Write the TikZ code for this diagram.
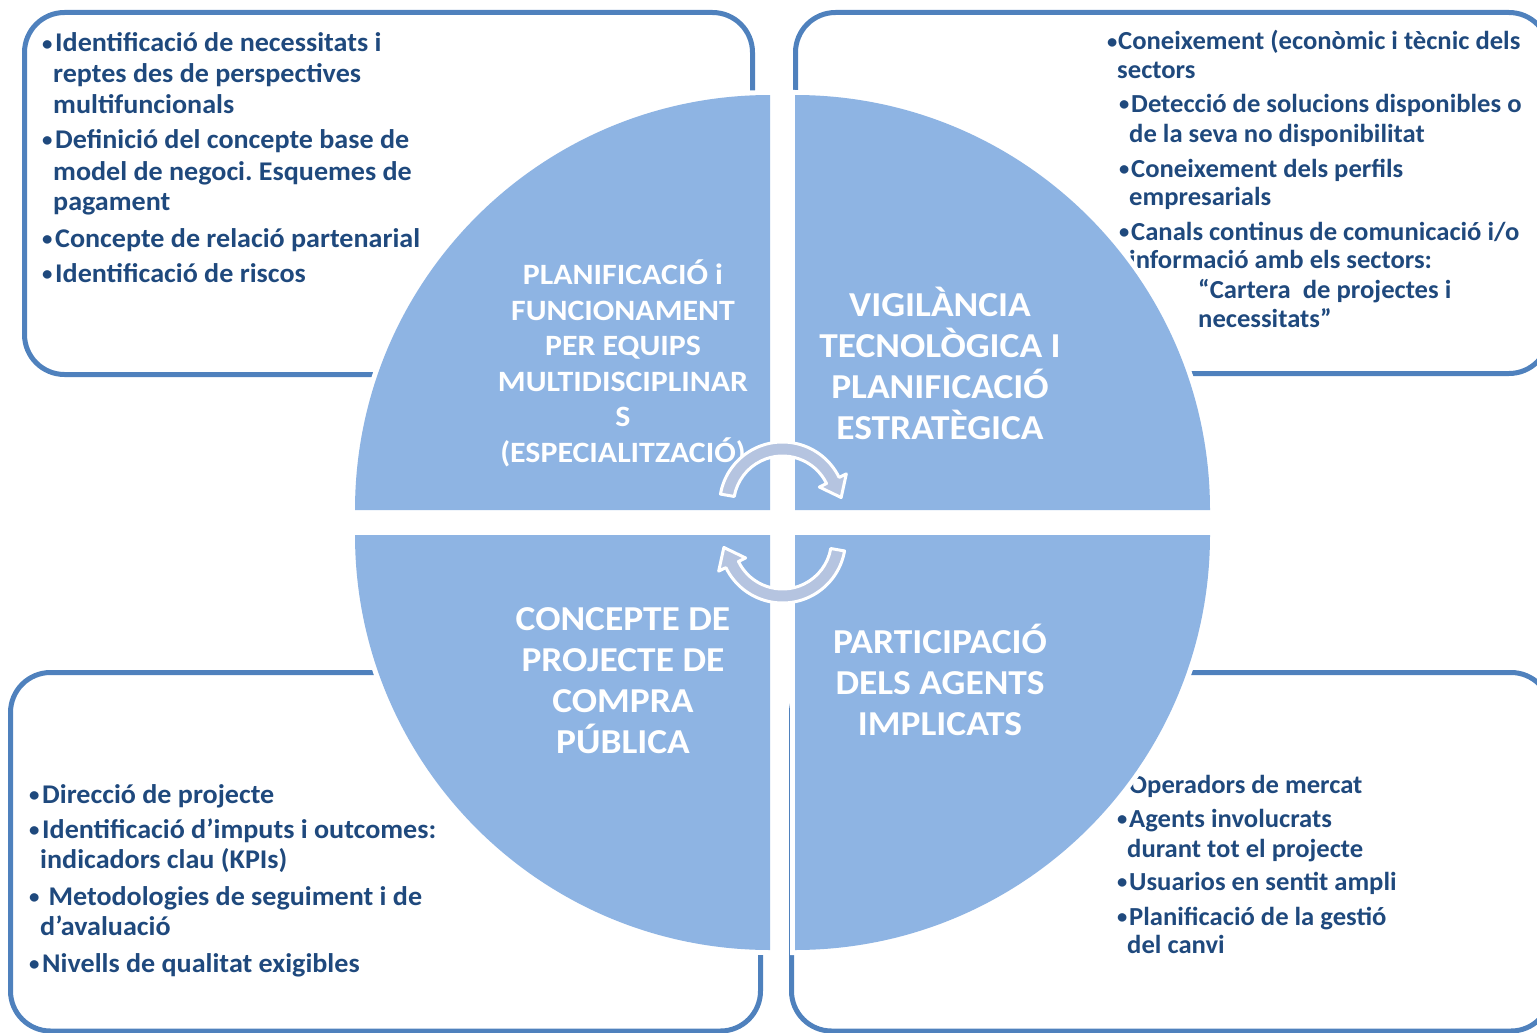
\documentclass[tikz,border=0pt]{standalone}
\usepackage{fontspec}
\setmainfont{Carlito}
\usetikzlibrary{calc}
\frenchspacing
\definecolor{qfill}{RGB}{142,180,227}
\definecolor{boxline}{RGB}{79,129,189}
\definecolor{txt}{RGB}{31,73,125}
\definecolor{arrfill}{RGB}{181,196,224}
\newcommand{\bu}[1][12]{\makebox[#1pt][l]{\raisebox{1.5pt}{\fontsize{20}{20}\selectfont •}}}
\begin{document}
\begin{tikzpicture}[x=1pt,y=-1pt,
  frame/.style={draw=boxline,line width=5pt,rounded corners=40pt},
  quarter/.style={fill=qfill,preaction={draw=white,line width=10pt}},
  bt/.style={anchor=base west,inner sep=0pt,text=txt,font=\fontsize{27}{31}\selectfont\bfseries\addfontfeatures{FakeStretch=1.04}},
  btr/.style={anchor=base west,inner sep=0pt,text=txt,font=\fontsize{26}{31}\selectfont\bfseries\addfontfeatures{FakeStretch=1.025}},
  qtsmall/.style={align=center,text=white,inner sep=0pt,font=\fontsize{29.5}{35.5}\selectfont\bfseries\addfontfeatures{FakeStretch=1.08}},
  qtbig/.style={align=center,text=white,inner sep=0pt,font=\fontsize{35}{41}\selectfont\bfseries\addfontfeatures{FakeStretch=1.07}},
  cyc/.style={fill=arrfill,draw=white,line width=3pt,line join=round}]
\useasboundingbox (0,0) rectangle (1537,1033);
\clip (0,0) rectangle (1537,1033);

% frames
\draw[frame] (24.5,12.5) rectangle (752.5,374.5);
\draw[frame] (795.5,12.5) rectangle (1549,373.5);
\draw[frame] (10.5,672.5) rectangle (760.5,1031);
\draw[frame] (791.5,672.5) rectangle (1551,1031);

% top-left text
\node[bt] (tl1) at (42,52) {\bu[13]Identificació de necessitats i};
\node[bt] (tl2) at (53,83) {reptes des de perspectives};
\node[bt] (tl3) at (53,113) {multifuncionals};
\node[bt] (tl4) at (42,148) {\bu[13]Definició del concepte base de};
\node[bt] (tl5) at (53,180) {model de negoci. Esquemes de};
\node[bt] (tl6) at (53,210) {pagament};
\node[bt] (tl7) at (42,247) {\bu[13]Concepte de relació partenarial};
\node[bt] (tl8) at (42,282) {\bu[13]Identificació de riscos};

% top-right text
\node[btr] (tr1) at (1107,50) {\bu[11]Coneixement (econòmic i tècnic dels};
\node[btr] (tr2) at (1117,78) {sectors};
\node[btr] (tr3) at (1119,112) {\bu[12]Detecció de solucions disponibles o};
\node[btr] (tr4) at (1129,142) {de la seva no disponibilitat};
\node[btr] (tr5) at (1119,177) {\bu[12]Coneixement dels perfils};
\node[btr] (tr6) at (1129,205) {empresarials};
\node[btr] (tr7) at (1119,240) {\bu[12]Canals continus de comunicació i/o};
\node[btr] (tr8) at (1129,268) {informació amb els sectors:};
\node[btr] (tr9) at (1198,298) {“Cartera\ \ de projectes i};
\node[btr] (tr10) at (1198,327) {necessitats”};

% bottom-left text
\node[bt] (bl1) at (29,803) {\bu[13]Direcció de projecte};
\node[bt] (bl2) at (29,838) {\bu[13]Identificació d’imputs i outcomes:};
\node[bt] (bl3) at (40,868) {indicadors clau (KPIs)};
\node[bt] (bl4) at (29,905) {\bu[13] Metodologies de seguiment i de};
\node[bt] (bl5) at (40,935) {d’avaluació};
\node[bt] (bl6) at (29,972) {\bu[13]Nivells de qualitat exigibles};

% bottom-right text
\node[btr] (br1) at (1117,793) {\bu[12]Operadors de mercat};
\node[btr] (br2) at (1117,827) {\bu[12]Agents involucrats};
\node[btr] (br3) at (1127,857) {durant tot el projecte};
\node[btr] (br4) at (1117,890) {\bu[12]Usuarios en sentit ampli};
\node[btr] (br5) at (1117,925) {\bu[12]Planificació de la gestió};
\node[btr] (br6) at (1127,953) {del canvi};

% quarters
\path[quarter] (770,510) -- (355,510) arc[start angle=180,end angle=270,radius=415] -- cycle;
\path[quarter] (795,510) -- (795,95) arc[start angle=270,end angle=360,radius=415] -- cycle;
\path[quarter] (795,535) -- (1210,535) arc[start angle=0,end angle=90,radius=415] -- cycle;
\path[quarter] (770,535) -- (770,950) arc[start angle=90,end angle=180,radius=415] -- cycle;

% quarter texts
\node[qtsmall] (qtl) at (623,363.5) {PLANIFICACIÓ i\\FUNCIONAMENT\\PER EQUIPS\\MULTIDISCIPLINAR\\S\\(ESPECIALITZACIÓ)};
\node[qtbig] (qtr) at (940,363.5) {VIGILÀNCIA\\TECNOLÒGICA I\\PLANIFICACIÓ\\ESTRATÈGICA};
\node[qtbig] (qbl) at (623,680.5) {CONCEPTE DE\\PROJECTE DE\\COMPRA\\PÚBLICA};
\node[qtbig] (qbr) at (940,679.5) {PARTICIPACIÓ\\DELS AGENTS\\IMPLICATS};

% cycle arrows
\coordinate (cu) at (782.5,505);
\coordinate (cl) at (782.5,540);
\path[cyc] ($(cu)+(190:63)$) arc[start angle=190,end angle=334,radius=63]
  -- ($(cu)+(334:71)$) -- ($(cu)+(334:56)+(64:19)$) -- ($(cu)+(334:41)$)
  -- ($(cu)+(334:49)$) arc[start angle=334,end angle=190,radius=49] -- cycle;
\path[cyc] ($(cl)+(10:63)$) arc[start angle=10,end angle=154,radius=63]
  -- ($(cl)+(154:71)$) -- ($(cl)+(154:56)+(244:19)$) -- ($(cl)+(154:41)$)
  -- ($(cl)+(154:49)$) arc[start angle=154,end angle=10,radius=49] -- cycle;
\end{tikzpicture}
\end{document}
